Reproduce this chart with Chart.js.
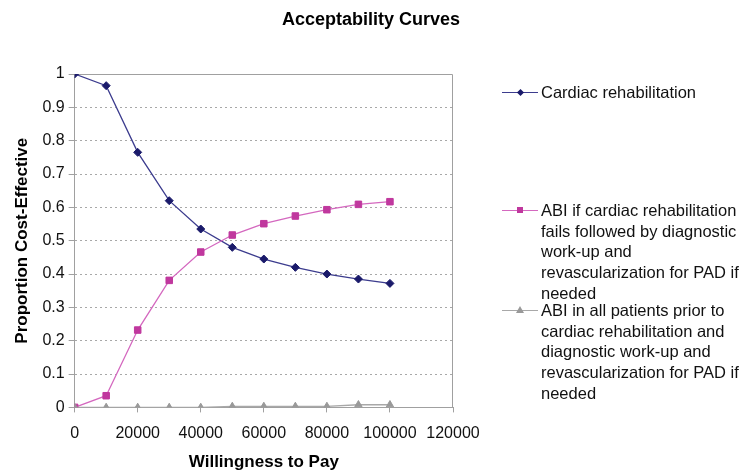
<!DOCTYPE html>
<html>
<head>
<meta charset="utf-8">
<script src="https://cdn.jsdelivr.net/npm/chart.js@4/dist/chart.umd.min.js"></script>
<style>
  body { margin: 0; background: #fff; font-family: "Liberation Sans", Arial, sans-serif; }
  #wrap { position: relative; width: 745px; height: 471px; overflow: hidden; }
  #title { position: absolute; left: 0; width: 742px; text-align: center; top: 9px; font-size: 18px; font-weight: bold; color: #000; }
  #legend { position: absolute; left: 502px; top: 0; width: 243px; font-size: 16.5px; color: #111; }
  .item { position: absolute; left: 0; display: flex; align-items: flex-start; white-space: nowrap; }
  .sw { position: relative; width: 37px; height: 20px; flex: none; }
  .sw .ln { position: absolute; left: 0; right: 1px; top: 10px; height: 1.3px; }
  .sw .mk { position: absolute; left: 15px; top: 7px; width: 6px; height: 6px; }
  .txt { line-height: 20.7px; padding-left: 2px; }
</style>
</head>
<body>
<div id="wrap">
  <canvas id="myChart" width="745" height="471"></canvas>
  <div id="title">Acceptability Curves</div>
  <div id="legend"></div>
</div>
<script>
const wtp = [0, 10000, 20000, 30000, 40000, 50000, 60000, 70000, 80000, 90000, 100000];
const cardiacRehab = [1, 0.965, 0.765, 0.62, 0.535, 0.48, 0.445, 0.42, 0.4, 0.385, 0.372];
const abiIfFails = [0, 0.035, 0.232, 0.381, 0.466, 0.517, 0.551, 0.574, 0.593, 0.609, 0.617];
const abiAll = [0, 0, 0, 0, 0, 0.003, 0.003, 0.003, 0.003, 0.008, 0.008];
const seriesNames = [
  "Cardiac rehabilitation",
  "ABI if cardiac rehabilitation fails followed by diagnostic work-up and revascularization for PAD if needed",
  "ABI in all patients prior to cardiac rehabilitation and diagnostic work-up and revascularization for PAD if needed"
];
const legendLines = [
  ["Cardiac rehabilitation"],
  ["ABI if cardiac rehabilitation", "fails followed by diagnostic", "work-up and", "revascularization for PAD if", "needed"],
  ["ABI in all patients prior to", "cardiac rehabilitation and", "diagnostic work-up and", "revascularization for PAD if", "needed"]
];
const lineColors = ["#3c3c8e", "#d468bf", "#a8a8a8"];
const markColors = ["#1a1a6a", "#c0389e", "#999999"];
const markers = ["rectRot", "rect", "triangle"];
const radii = [4, 4.6, 4.2];

const pts = vals => wtp.map((x, i) => ({ x: x, y: vals[i] }));

// box round the plot area (top and right edges)
const frame = {
  id: "frame",
  beforeDatasetsDraw(chart) {
    const a = chart.chartArea, c = chart.ctx;
    c.save();
    c.strokeStyle = "#a0a0a0";
    c.lineWidth = 1;
    c.beginPath();
    c.moveTo(a.left, a.top + 0.5);
    c.lineTo(a.right - 0.5, a.top + 0.5);
    c.lineTo(a.right - 0.5, a.bottom);
    c.stroke();
    c.restore();
  }
};

const tickFont = { family: "Liberation Sans", size: 16 };
const axisTitleFont = { family: "Liberation Sans", size: 17, weight: "bold" };

new Chart(document.getElementById("myChart"), {
  type: "line",
  data: {
    datasets: [cardiacRehab, abiIfFails, abiAll].map((v, i) => ({
      label: seriesNames[i],
      data: pts(v),
      borderColor: lineColors[i],
      backgroundColor: markColors[i],
      pointBorderColor: markColors[i],
      borderWidth: 1.3,
      pointBorderWidth: 1,
      pointStyle: markers[i],
      pointRadius: radii[i],
      tension: 0,
      order: 3 - i
    }))
  },
  options: {
    responsive: false,
    animation: false,
    layout: { padding: { left: 10, right: 292, top: 74, bottom: -2 } },
    plugins: {
      legend: { display: false },
      tooltip: { enabled: false }
    },
    scales: {
      x: {
        type: "linear",
        min: 0,
        max: 120000,
        ticks: {
          stepSize: 20000,
          color: "#111",
          font: tickFont,
          padding: 12,
          maxRotation: 0,
          callback: v => String(v)
        },
        grid: { drawOnChartArea: false, color: "#a0a0a0", tickLength: 5 },
        border: { color: "#a0a0a0" },
        title: {
          display: true,
          text: "Willingness to Pay",
          color: "#000",
          font: axisTitleFont,
          padding: { top: -3, bottom: 0 }
        }
      },
      y: {
        min: 0,
        max: 1,
        ticks: {
          stepSize: 0.1,
          color: "#111",
          font: tickFont,
          padding: 4,
          callback: v => String(+v.toFixed(1))
        },
        grid: {
          tickLength: 6,
          tickColor: "#a0a0a0",
          color: ctx => (ctx.tick.value === 0 || ctx.tick.value === 1) ? "rgba(0,0,0,0)" : "#a8a8a8",
          lineWidth: 1
        },
        border: { color: "#a0a0a0", dash: [2, 3] },
        title: {
          display: true,
          text: "Proportion Cost-Effective",
          color: "#000",
          font: axisTitleFont,
          padding: { top: 2, bottom: 6 }
        }
      }
    }
  },
  plugins: [frame]
});

// legend built from the series names
const tops = [82, 200, 300];
const lg = document.getElementById("legend");
legendLines.forEach((lines, i) => {
  const it = document.createElement("div");
  it.className = "item";
  it.style.top = tops[i] + "px";
  const c = markColors[i];
  let mk = "";
  if (markers[i] === "rectRot") mk = `<div class="mk" style="background:${c};transform:rotate(45deg);width:5px;height:5px;left:16px;top:7.5px"></div>`;
  else if (markers[i] === "rect") mk = `<div class="mk" style="background:${c}"></div>`;
  else mk = `<div class="mk" style="width:0;height:0;border-left:4px solid transparent;border-right:4px solid transparent;border-bottom:7px solid ${c};left:14px;top:6px"></div>`;
  it.innerHTML = `<div class="sw"><div class="ln" style="background:${lineColors[i]}"></div>${mk}</div><div class="txt">${lines.join("<br>")}</div>`;
  lg.appendChild(it);
});
</script>
</body>
</html>
